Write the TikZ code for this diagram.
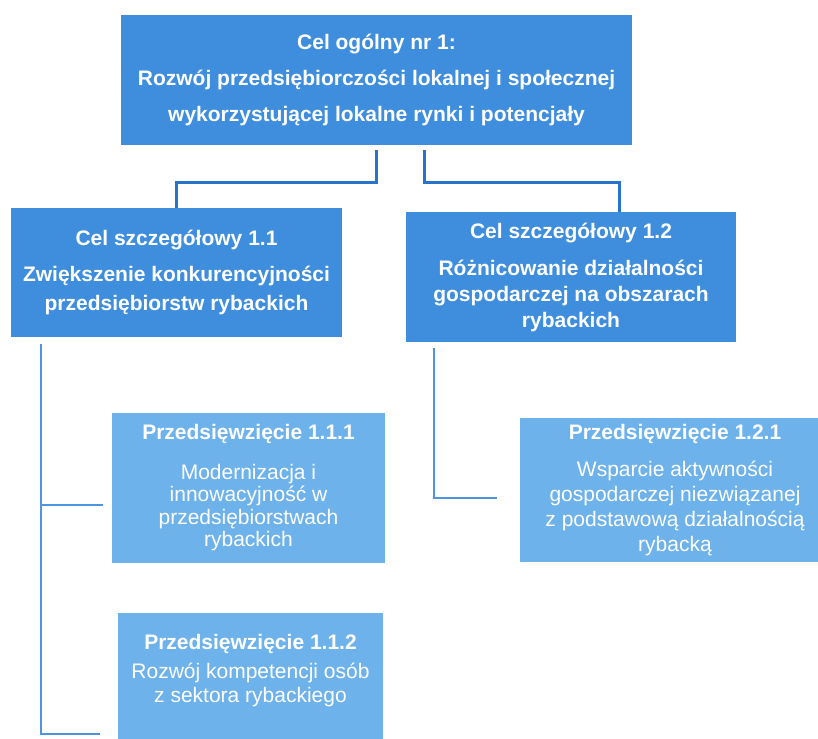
\documentclass[tikz,border=0pt]{standalone}
\usepackage{fontspec}
\setmainfont{Liberation Sans}
\definecolor{celblue}{RGB}{62,142,221}
\definecolor{actblue}{RGB}{110,178,236}
\definecolor{lineblue}{RGB}{40,116,202}
\definecolor{linelight}{RGB}{78,148,226}
\tikzset{
	goal/.style={fill=celblue, text=white, align=center, inner sep=0pt},
	action/.style={fill=actblue, text=white, align=center, inner sep=0pt},
	link/.style={draw=lineblue, line width=3pt},
	sublink/.style={draw=linelight, line width=2.5pt}
}
\begin{document}
\begin{tikzpicture}[x=1pt,y=-1pt]
		\useasboundingbox (0,0) rectangle (818,738);
		\clip (0,0) rectangle (818,738);
		\node[goal, minimum width=511pt, minimum height=130pt, font=\fontsize{21}{36}\selectfont\bfseries] (top) at (376.5,80) {Cel ogólny nr 1:\\Rozwój przedsiębiorczości lokalnej i społecznej\\wykorzystującej lokalne rynki i potencjały};
		\node[goal, minimum width=331pt, minimum height=129pt, font=\fontsize{21}{29}\selectfont\bfseries] (cel11) at (176.5,272.5) {Cel szczegółowy 1.1\\[7pt]Zwiększenie konkurencyjności\\przedsiębiorstw rybackich};
		\node[goal, minimum width=330pt, minimum height=130pt, font=\fontsize{21}{26}\selectfont\bfseries] (cel12) at (571,277) {Cel szczegółowy 1.2\\[11pt]Różnicowanie działalności\\gospodarczej na obszarach\\rybackich};
		\node[action, minimum width=273pt, minimum height=150pt, font=\fontsize{21}{22.5}\selectfont] (p111) at (248.5,488) {\textbf{Przedsięwzięcie 1.1.1}\\[17pt]Modernizacja i\\innowacyjność w\\przedsiębiorstwach\\rybackich};
		\node[action, minimum width=310pt, minimum height=144pt, font=\fontsize{21}{25}\selectfont] (p121) at (675,490) {\textbf{Przedsięwzięcie 1.2.1}\\[12pt]Wsparcie aktywności\\gospodarczej niezwiązanej\\z podstawową działalnością\\rybacką};
		\node[action, minimum width=265pt, anchor=north, inner ysep=21pt, font=\fontsize{21}{24}\selectfont] (p112) at (250.5,613) {\textbf{Przedsięwzięcie 1.1.2}\\[5pt]Rozwój kompetencji osób\\z sektora rybackiego\rule[-40pt]{0pt}{0pt}};
		\coordinate (split) at ([yshift=-37pt]top.south);
		\draw[link] ([yshift=-5pt]top.south) -- (split) -| (cel11.north);
		\draw[link] ([xshift=48pt,yshift=-5pt]top.south) -- ([xshift=48pt]split) -| ([xshift=48pt]cel12.north);
		\draw[sublink] ([xshift=30pt,yshift=-7pt]cel11.south west) |- ([xshift=-9pt,yshift=-17pt]p111.west);
		\draw[sublink] ([xshift=30pt,yshift=-7pt]cel11.south west) |- ([xshift=-18pt]p112.west |- 0,734);
		\draw[sublink] ([xshift=28pt,yshift=-6pt]cel12.south west) |- ([xshift=-23pt,yshift=-8pt]p121.west);
	\end{tikzpicture}
\end{document}
